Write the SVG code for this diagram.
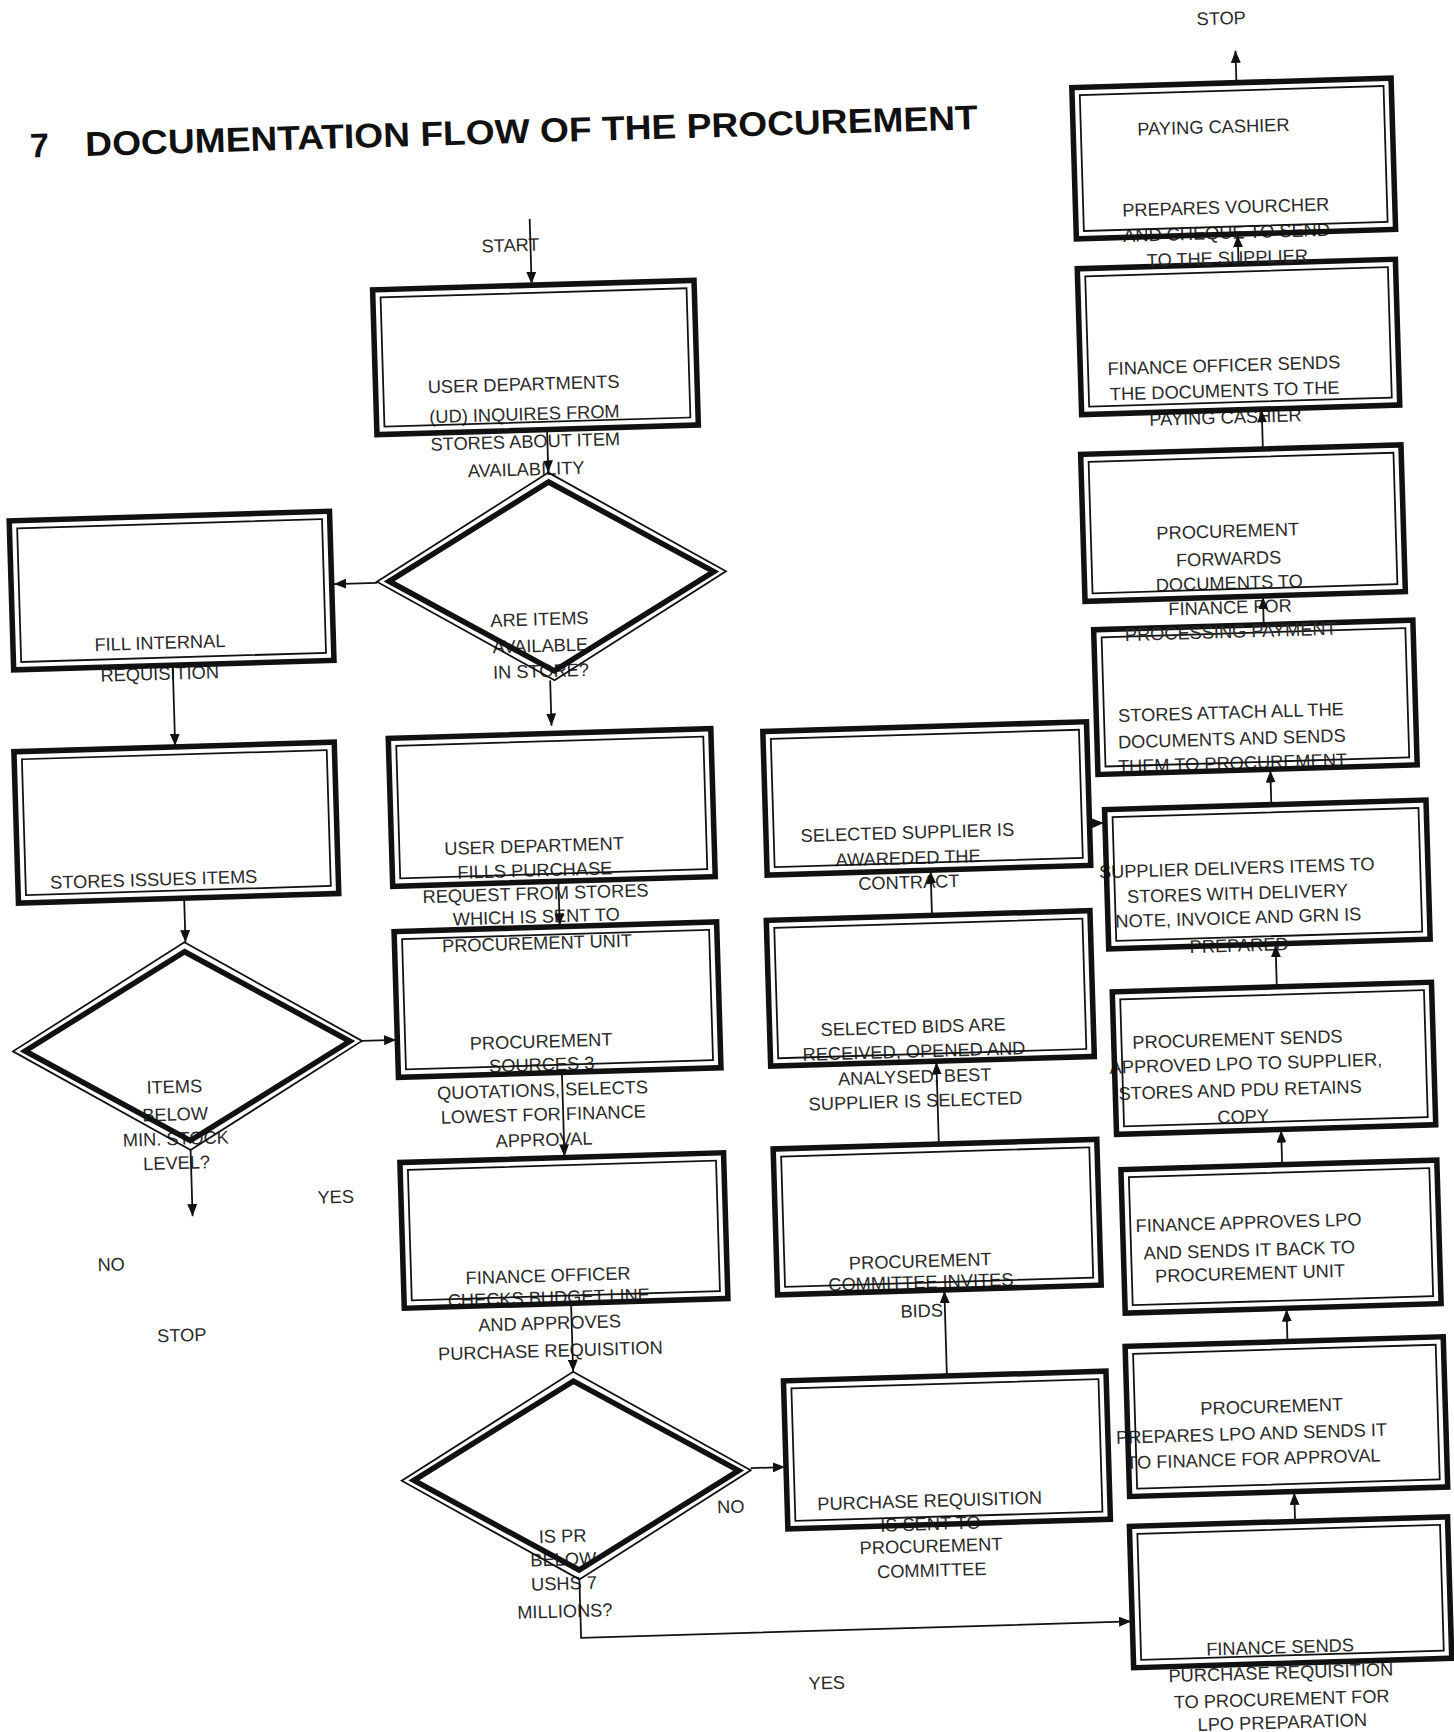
<svg xmlns="http://www.w3.org/2000/svg" width="1454" height="1732" viewBox="0 0 1454 1732">
<defs>
<style>
text{font-family:"Liberation Sans",Arial,sans-serif;font-size:16.5px;fill:#2a2a2a;text-anchor:middle}
.title{font-weight:bold;font-size:31px;fill:#111;text-anchor:start}
.ob{fill:none;stroke:#111;stroke-width:5}
.ib{fill:none;stroke:#111;stroke-width:1.6}
.od{fill:none;stroke:#111;stroke-width:1.6}
.id{fill:none;stroke:#111;stroke-width:5}
.c{fill:none;stroke:#111;stroke-width:1.6}
</style>
<marker id="ah" markerUnits="userSpaceOnUse" markerWidth="11" markerHeight="9" refX="11" refY="4.5" orient="auto"><path d="M0,0 L11,4.5 L0,9 Z" fill="#111"/></marker>
</defs>
<rect width="1454" height="1732" fill="#fff"/>
<g transform="scale(1.105) rotate(-1.72 658 784)">
<text class="title"><tspan x="47" y="124">7</tspan><tspan x="97" y="124" textLength="808" lengthAdjust="spacingAndGlyphs">DOCUMENTATION FLOW OF THE PROCUREMENT</tspan></text>
<text x="479" y="222">START</text>
<text x="1128" y="36">STOP</text>
<text x="295" y="1078">YES</text>
<text x="90" y="1133">NO</text>
<text x="152" y="1199">STOP</text>
<text x="644" y="1369">NO</text>
<text x="726" y="1531">YES</text>

<g id="nodeA"><text x="487" y="348">USER DEPARTMENTS</text><text x="487" y="375">(UD) INQUIRES FROM</text><text x="487" y="400">STORES ABOUT ITEM</text><text x="487" y="425">AVAILABILITY</text><rect class="ob" x="353" y="253" width="291" height="131"/><rect class="ib" x="360" y="260" width="277" height="117"/></g>

<g id="nodeD1"><text x="495" y="561">ARE ITEMS</text><text x="495" y="585">AVAILABLE</text><text x="495" y="608">IN STORE?</text><polygon class="od" points="507,423 665,517 507,611 349,517"/><polygon class="id" points="507,431.5 654,517 507,602.5 360,517"/></g>

<g id="nodeB"><text x="151" y="572">FILL INTERNAL</text><text x="150" y="600">REQUISITION</text><rect class="ob" x="18" y="452" width="290" height="135"/><rect class="ib" x="25" y="459" width="276" height="121"/></g>

<g id="nodeC"><text x="139" y="786">STORES ISSUES ITEMS</text><rect class="ob" x="16" y="661" width="290" height="137"/><rect class="ib" x="23" y="668" width="276" height="123"/></g>

<g id="nodeD2"><text x="152" y="974">ITEMS</text><text x="152" y="999">BELOW</text><text x="152" y="1021">MIN. STOCK</text><text x="152" y="1043">LEVEL?</text><polygon class="od" points="165,838 323,932 165,1026 7,932"/><polygon class="id" points="165,846.5 312,932 165,1017.5 18,932"/></g>

<g id="nodeD"><text x="484" y="766">USER DEPARTMENT</text><text x="484" y="788">FILLS PURCHASE</text><text x="484" y="809">REQUEST FROM STORES</text><text x="484" y="830">WHICH IS SENT TO</text><text x="484" y="854">PROCUREMENT UNIT</text><rect class="ob" x="355" y="659" width="292" height="134"/><rect class="ib" x="362" y="666" width="278" height="120"/></g>

<g id="nodeE"><text x="485" y="943">PROCUREMENT</text><text x="485" y="964">SOURCES 3</text><text x="485" y="987">QUOTATIONS, SELECTS</text><text x="485" y="1009">LOWEST FOR FINANCE</text><text x="485" y="1032">APPROVAL</text><rect class="ob" x="355" y="834" width="292" height="132"/><rect class="ib" x="362" y="841" width="278" height="118"/></g>

<g id="nodeF"><text x="485" y="1155">FINANCE OFFICER</text><text x="485" y="1175">CHECKS BUDGET LINE</text><text x="485" y="1198">AND APPROVES</text><text x="485" y="1223">PURCHASE REQUISITION</text><rect class="ob" x="354" y="1043" width="293" height="132"/><rect class="ib" x="361" y="1050" width="279" height="118"/></g>

<g id="nodeD3"><text x="491" y="1391">IS PR</text><text x="491" y="1412">BELOW</text><text x="491" y="1434">USHS 7</text><text x="491" y="1459">MILLIONS?</text><polygon class="od" points="505,1237 663,1331 505,1425 347,1331"/><polygon class="id" points="505,1245.5 652,1331 505,1416.5 358,1331"/></g>

<g id="nodeG"><text x="824" y="1369">PURCHASE REQUISITION</text><text x="824" y="1390">IS SENT TO</text><text x="824" y="1410">PROCUREMENT</text><text x="824" y="1432">COMMITTEE</text><rect class="ob" x="695" y="1251" width="292" height="134"/><rect class="ib" x="702" y="1258" width="278" height="120"/></g>

<g id="nodeH"><text x="822" y="1152">PROCUREMENT</text><text x="822" y="1171">COMMITTEE INVITES</text><text x="822" y="1197">BIDS</text><rect class="ob" x="692" y="1041" width="293" height="132"/><rect class="ib" x="699" y="1048" width="279" height="118"/></g>

<g id="nodeI"><text x="822" y="940">SELECTED BIDS ARE</text><text x="822" y="962">RECEIVED, OPENED AND</text><text x="822" y="985">ANALYSED, BEST</text><text x="822" y="1007">SUPPLIER IS SELECTED</text><rect class="ob" x="692" y="834" width="293" height="132"/><rect class="ib" x="699" y="841" width="279" height="118"/></g>

<g id="nodeJ"><text x="822" y="764">SELECTED SUPPLIER IS</text><text x="822" y="787">AWAREDED THE</text><text x="822" y="809">CONTRACT</text><rect class="ob" x="694" y="663" width="293" height="130"/><rect class="ib" x="701" y="670" width="279" height="116"/></g>

<g id="nodeK"><text x="1119" y="805">SUPPLIER DELIVERS ITEMS TO</text><text x="1119" y="828">STORES WITH DELIVERY</text><text x="1119" y="850">NOTE, INVOICE AND GRN IS</text><text x="1119" y="875">PREPARED</text><rect class="ob" x="1001" y="743" width="291" height="126"/><rect class="ib" x="1008" y="750" width="277" height="112"/></g>

<g id="nodeL"><text x="1118" y="664">STORES ATTACH ALL THE</text><text x="1118" y="688">DOCUMENTS AND SENDS</text><text x="1118" y="710">THEM TO PROCUREMENT</text><rect class="ob" x="996" y="580" width="289" height="131"/><rect class="ib" x="1003" y="587" width="275" height="117"/></g>

<g id="nodeM"><text x="1120" y="500">PROCUREMENT</text><text x="1120" y="525">FORWARDS</text><text x="1120" y="547">DOCUMENTS TO</text><text x="1120" y="569">FINANCE FOR</text><text x="1120" y="591">PROCESSING PAYMENT</text><rect class="ob" x="989" y="421" width="290" height="133"/><rect class="ib" x="996" y="428" width="276" height="119"/></g>

<g id="nodeFOS"><text x="1121" y="350">FINANCE OFFICER SENDS</text><text x="1121" y="373">THE DOCUMENTS TO THE</text><text x="1121" y="397">PAYING CASHIER</text><rect class="ob" x="991" y="253" width="288" height="132"/><rect class="ib" x="998" y="260" width="274" height="118"/></g>

<g id="nodePC"><text x="1118" y="134">PAYING CASHIER</text><text x="1127" y="207">PREPARES VOURCHER</text><text x="1127" y="230">AND CHEQUE TO SEND</text><text x="1127" y="253">TO THE SUPPLIER</text><rect class="ob" x="991" y="89" width="289" height="137"/><rect class="ib" x="998" y="96" width="275" height="123"/></g>

<g id="nodePS"><text x="1115" y="960">PROCUREMENT SENDS</text><text x="1122" y="982">APPROVED LPO TO SUPPLIER,</text><text x="1116" y="1006">STORES AND PDU RETAINS</text><text x="1118" y="1030">COPY</text><rect class="ob" x="1003" y="908" width="289" height="129"/><rect class="ib" x="1010" y="915" width="275" height="115"/></g>

<g id="nodeFA"><text x="1120" y="1126">FINANCE APPROVES LPO</text><text x="1120" y="1151">AND SENDS IT BACK TO</text><text x="1120" y="1172">PROCUREMENT UNIT</text><rect class="ob" x="1006" y="1069" width="286" height="130"/><rect class="ib" x="1013" y="1076" width="272" height="116"/></g>

<g id="nodePP"><text x="1136" y="1293">PROCUREMENT</text><text x="1117" y="1317">PREPARES LPO AND SENDS IT</text><text x="1118" y="1340">TO FINANCE FOR APPROVAL</text><rect class="ob" x="1005" y="1229" width="288" height="136"/><rect class="ib" x="1012" y="1236" width="274" height="122"/></g>

<g id="nodeN"><text x="1137" y="1511">FINANCE SENDS</text><text x="1137" y="1534">PURCHASE REQUISITION</text><text x="1137" y="1558">TO PROCUREMENT FOR</text><text x="1137" y="1579">LPO PREPARATION</text><rect class="ob" x="1004" y="1392" width="288" height="128"/><rect class="ib" x="1011" y="1399" width="274" height="114"/></g>

<g id="connectors" class="c">
<path class="c" marker-end="url(#ah)" d="M497,193 V252"/>
<path class="c" marker-end="url(#ah)" d="M507,384 V423"/>
<path class="c" marker-end="url(#ah)" d="M349,518 H310"/>
<path class="c" marker-end="url(#ah)" d="M162,587 V660"/>
<path class="c" marker-end="url(#ah)" d="M503,611 V652"/>
<path class="c" marker-end="url(#ah)" d="M166,798 V838"/>
<path class="c" marker-end="url(#ah)" d="M165,1026 V1086"/>
<path class="c" marker-end="url(#ah)" d="M323,932 H354"/>
<path class="c" marker-end="url(#ah)" d="M505,793 V833"/>
<path class="c" marker-end="url(#ah)" d="M503,966 V1042"/>
<path class="c" marker-end="url(#ah)" d="M505,1175 V1237"/>
<path class="c" marker-end="url(#ah)" d="M663,1329 H694"/>
<path class="c" marker-end="url(#ah)" d="M505,1425 V1478 H1003"/>
<path class="c" marker-end="url(#ah)" d="M843,1251 V1174"/>
<path class="c" marker-end="url(#ah)" d="M842,1041 V967"/>
<path class="c" marker-end="url(#ah)" d="M842,834 V794"/>
<path class="c" marker-end="url(#ah)" d="M987,755 H1000"/>
<path class="c" marker-end="url(#ah)" d="M1152,743 V712"/>
<path class="c" marker-end="url(#ah)" d="M1150,580 V555"/>
<path class="c" marker-end="url(#ah)" d="M1154,421 V386"/>
<path class="c" marker-end="url(#ah)" d="M1137,253 V227"/>
<path class="c" marker-end="url(#ah)" d="M1140,89 V60"/>
<path class="c" marker-end="url(#ah)" d="M1154,1392 V1366"/>
<path class="c" marker-end="url(#ah)" d="M1152,1229 V1200"/>
<path class="c" marker-end="url(#ah)" d="M1152,1069 V1038"/>
<path class="c" marker-end="url(#ah)" d="M1152,908 V870"/>
</g>
</g>
</svg>
